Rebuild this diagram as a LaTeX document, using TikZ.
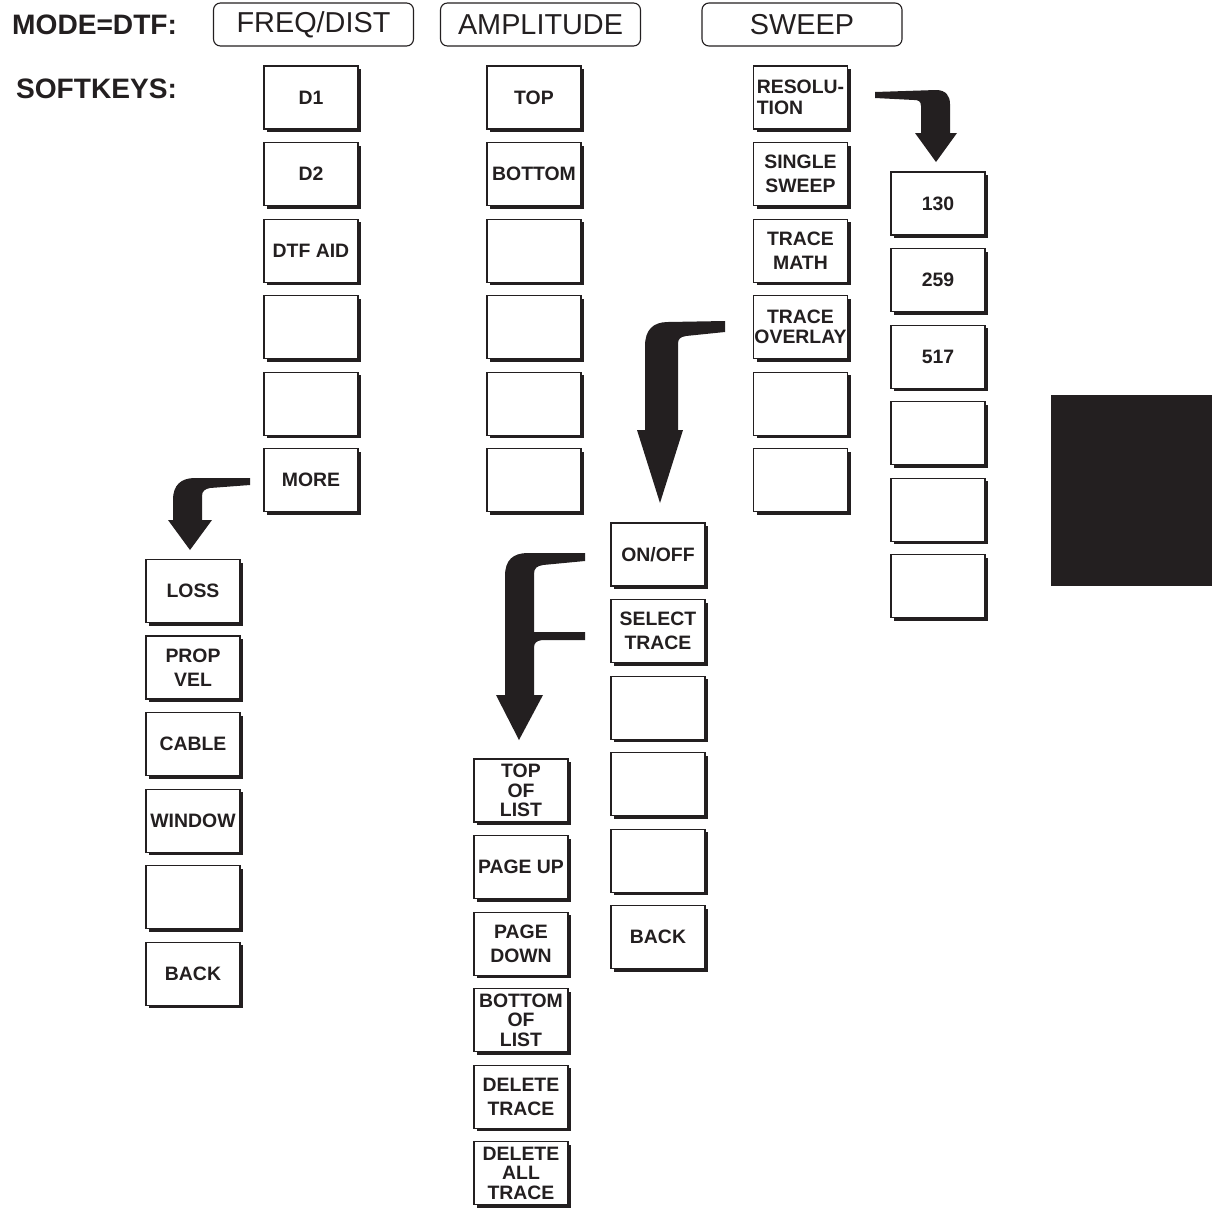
\documentclass[tikz,border=0pt]{standalone}
\usepackage{fontspec}
\setmainfont{Liberation Sans}
\usepackage{xcolor}
\usetikzlibrary{positioning, shadows}
\definecolor{ink}{HTML}{231F20}
\newcommand\keyfont{\bfseries\fontsize{13.8}{17}\selectfont}
\newcommand\tabfont{\fontsize{20.5}{22}\selectfont}
\newcommand\labelfont{\bfseries\fontsize{20}{22}\selectfont}

\begin{document}
\begin{tikzpicture}[
        x=0.025cm, y=-0.025cm,
        node distance=0.31cm,
        softkey/.style={rectangle, draw=ink, fill=white, line width=0.8pt, minimum width=2.35cm, minimum height=1.575cm, inner sep=0pt, align=center, text=ink, font=\keyfont, drop shadow={shadow xshift=2.3pt, shadow yshift=-2.3pt, opacity=1, fill=ink}},
        tab/.style={rectangle, draw=ink, line width=0.8pt, rounded corners=5pt, minimum width=5cm, minimum height=1.075cm, inner sep=0pt, text=ink, font=\tabfont},
        bigarrow/.style={fill=ink}
    ]
    \useasboundingbox (0,0) rectangle (1219,1211);

    % Mode line
    \node[anchor=east, text=ink, font=\labelfont] (mode) at (182,25) {MODE=DTF:};
    \node[anchor=east, text=ink, font=\labelfont] (keys) at (182,89) {SOFTKEYS:};
    \node[tab] (freq) at (313.5,24.5) {FREQ/DIST};
    \node[tab] (ampl) at (540.5,24.5) {AMPLITUDE};
    \node[tab] (sweep) at (802,24.5) {SWEEP};

    % FREQ/DIST Menu
    \node[softkey] (d1) at (311,97.5) {D1};
    \node[softkey, below=of d1] (d2) {D2};
    \node[softkey, below=of d2] (dtfaid) {DTF AID};
    \node[softkey, below=of dtfaid] (fblanka) {};
    \node[softkey, below=of fblanka] (fblankb) {};
    \node[softkey, below=of fblankb] (more) {MORE};

    % AMPLITUDE Menu
    \node[softkey] (top) at (534,97.5) {TOP};
    \node[softkey, below=of top] (bottom) {BOTTOM};
    \node[softkey, below=of bottom] (ablanka) {};
    \node[softkey, below=of ablanka] (ablankb) {};
    \node[softkey, below=of ablankb] (ablankc) {};
    \node[softkey, below=of ablankc] (ablankd) {};

    % SWEEP Menu
    \node[softkey, align=left] (resolution) at (800.5,97.5) {RESOLU-\\[-2pt]TION};
    \node[softkey, below=of resolution] (single) {SINGLE\\SWEEP};
    \node[softkey, below=of single] (math) {TRACE\\MATH};
    \node[softkey, below=of math] (overlay) {TRACE\\[-3pt]OVERLAY};
    \node[softkey, below=of overlay] (sblanka) {};
    \node[softkey, below=of sblanka] (sblankb) {};

    % Resolution Menu
    \node[softkey] (r130) at (938,203.5) {130};
    \node[softkey, below=of r130] (r259) {259};
    \node[softkey, below=of r259] (r517) {517};
    \node[softkey, below=of r517] (rblanka) {};
    \node[softkey, below=of rblanka] (rblankb) {};
    \node[softkey, below=of rblankb] (rblankc) {};

    % More Menu
    \node[softkey] (loss) at (193,591) {LOSS};
    \node[softkey, below=of loss] (propvel) {PROP\\VEL};
    \node[softkey, below=of propvel] (cable) {CABLE};
    \node[softkey, below=of cable] (window) {WINDOW};
    \node[softkey, below=of window] (mblank) {};
    \node[softkey, below=of mblank] (mback) {BACK};

    % Trace Overlay Menu
    \node[softkey] (onoff) at (658,554.5) {ON/OFF};
    \node[softkey, below=of onoff] (select) {SELECT\\TRACE};
    \node[softkey, below=of select] (oblanka) {};
    \node[softkey, below=of oblanka] (oblankb) {};
    \node[softkey, below=of oblankb] (oblankc) {};
    \node[softkey, below=of oblankc] (oback) {BACK};

    % Select Trace Menu
    \node[softkey] (toplist) at (521,790.5) {TOP\\[-3pt]OF\\[-3pt]LIST};
    \node[softkey, below=of toplist] (pageup) {PAGE UP};
    \node[softkey, below=of pageup] (pagedown) {PAGE\\DOWN};
    \node[softkey, below=of pagedown] (bottomlist) {BOTTOM\\[-3pt]OF\\[-3pt]LIST};
    \node[softkey, below=of bottomlist] (deltrace) {DELETE\\TRACE};
    \node[softkey, below=of deltrace] (delall) {DELETE\\[-3pt]ALL\\[-3pt]TRACE};

    % Menu Arrows
    \fill[bigarrow] (875,92) -- (936,90) .. controls (946,90) and (950,96) .. (950,104) -- (950,133) -- (957,133) -- (936,162) -- (915,133) -- (921,133) -- (921,106) .. controls (921,101) and (918,100) .. (914,100) -- (875,98) -- cycle;
    \fill[bigarrow] (725,321) -- (668,322) .. controls (653,322) and (645,330) .. (645,346) -- (645,430) -- (637,430) -- (660,503) -- (683,430) -- (678,430) -- (678,344) .. controls (678,339) and (680,337) .. (686,336) -- (725,332) -- cycle;
    \fill[bigarrow] (585,553) -- (528,553) .. controls (513,553) and (505,560) .. (505,576) -- (505,695) -- (496,695) -- (519,740) -- (543,695) -- (534,695) -- (534,648) .. controls (534,643) and (536,641) .. (542,640) -- (585,640) -- (585,632) -- (534,632) -- (534,574) .. controls (534,568) and (537,566) .. (543,565) -- (585,561) -- cycle;
    \fill[bigarrow] (250,478) -- (195,478) .. controls (181,478) and (173,485) .. (173,500) -- (173,520) -- (168,520) -- (190,550) -- (212,520) -- (202,520) -- (202,496) .. controls (202,491) and (205,489) .. (210,488) -- (250,485) -- cycle;

    % Tab Marker
    \fill[ink] (1051,395) rectangle (1212,586);

\end{tikzpicture}
\end{document}
